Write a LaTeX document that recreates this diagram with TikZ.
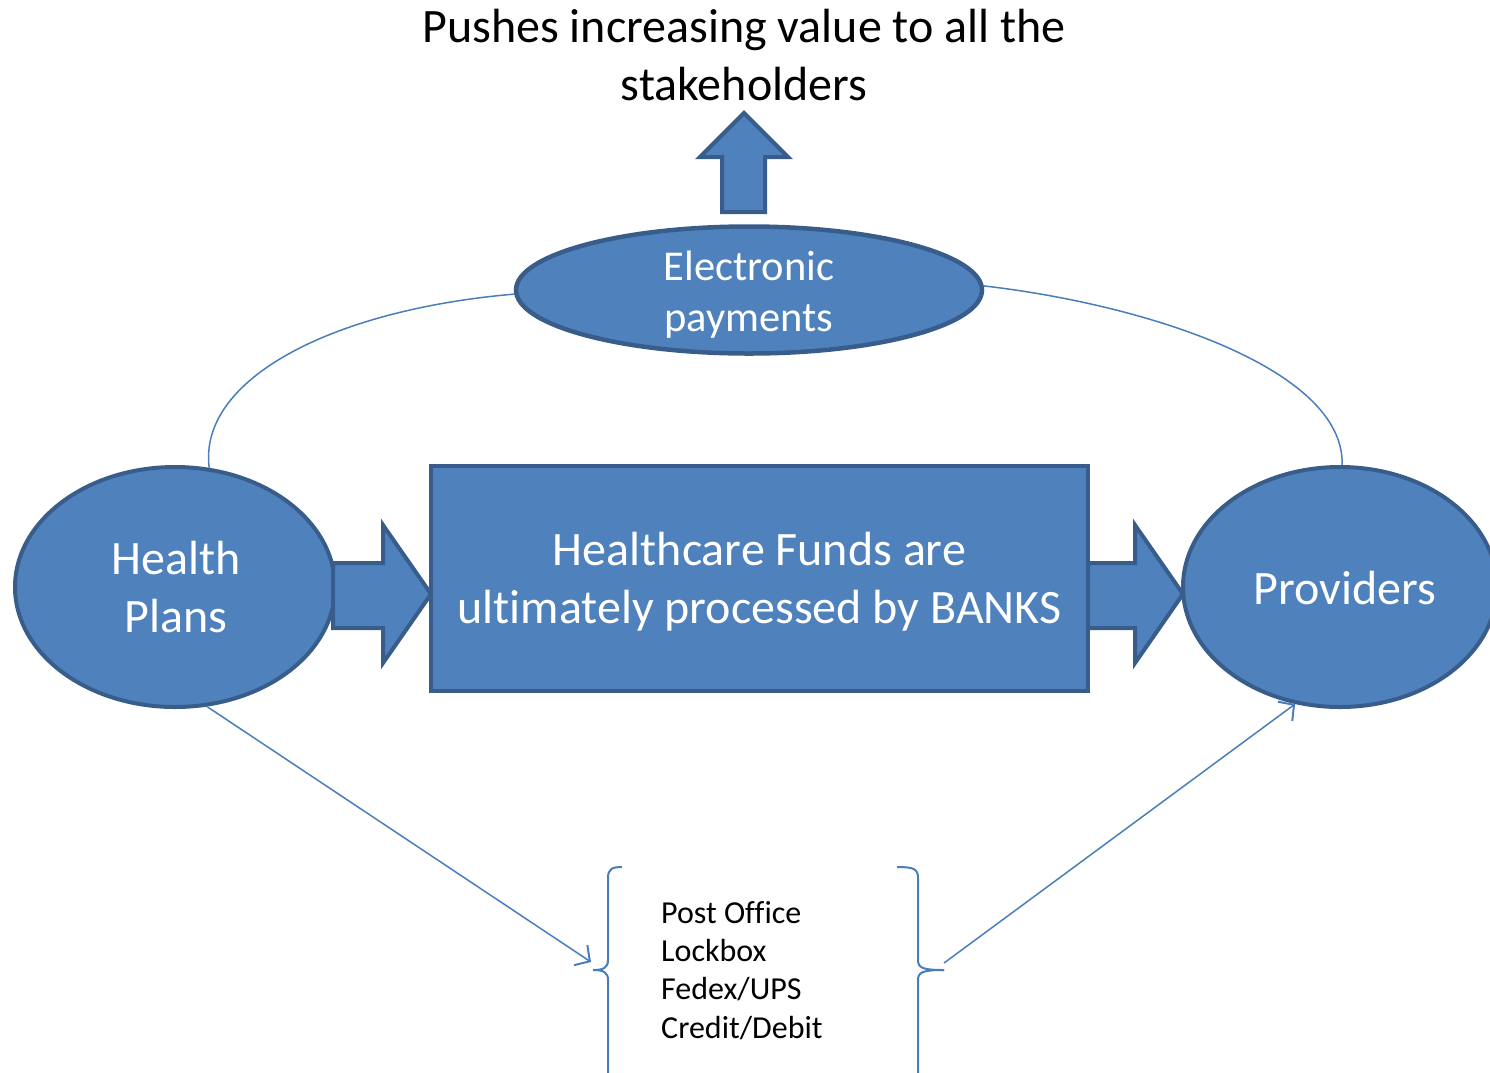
\documentclass[tikz,border=0pt]{standalone}
\usepackage{fontspec}
\setmainfont{Carlito}[Ligatures=NoCommon]
\usetikzlibrary{shapes.geometric,arrows.meta}
\definecolor{fillb}{HTML}{4F81BD}
\definecolor{edgeb}{HTML}{385D8A}
\definecolor{lineb}{HTML}{4A7EBB}
\tikzset{
  blob/.style={ellipse, draw=edgeb, line width=4pt, fill=fillb, text=white, align=center, inner sep=0pt},
  bigtxt/.style={font=\fontsize{48}{58}\selectfont},
  midtxt/.style={font=\fontsize{42.5}{51}\selectfont},
  blockarrow/.style={draw=edgeb, line width=4pt, fill=fillb, line join=miter},
  thin/.style={draw=lineb, line width=1.5pt},
  thinarrow/.style={thin, -{Straight Barb[length=11pt,width=24pt,line width=2pt]}},
  brace/.style={draw=lineb, line width=2pt},
}
\begin{document}
\begin{tikzpicture}[x=1pt,y=-1pt]
\useasboundingbox (0,0) rectangle (1490,1072);
\clip (0,0) rectangle (1490,1072);
% title
\node[bigtxt, align=center, text=black] (title) at (744,55) {Pushes increasing value to all the\\stakeholders};
% up arrow
\path[blockarrow] (722,212) -- (765,212) -- (765,157) -- (788,157) -- (744,113) -- (700,157) -- (722,157) -- cycle;
% nodes
\node[blob, minimum width=466pt, minimum height=127pt, line width=4.5pt] (ep) at (749,290) {};
\node[midtxt, text=white, align=center, inner sep=0pt] (eptext) at ([yshift=-5pt]ep.center) {Electronic\\payments};
\node[blob, bigtxt, minimum width=320pt, minimum height=240pt] (hp) at (175,587) {};
\node[bigtxt, text=white, align=center, inner sep=0pt] (hptext) at ([xshift=1pt]hp.center) {Health\\Plans};
\node[blob, bigtxt, minimum width=314pt, minimum height=240pt] (pr) at (1340,587) {};
\node[bigtxt, text=white, inner sep=0pt] (prtext) at ([xshift=5pt,yshift=-1pt]pr.center) {Providers};
% block arrows
\path[blockarrow] (333,563) -- (383,563) -- (383,525) -- (431,594) -- (383,663) -- (383,628) -- (333,628) -- cycle;
\path[blockarrow] (1088,563) -- (1135,563) -- (1135,525) -- (1183,594) -- (1135,663) -- (1135,628) -- (1088,628) -- cycle;
\node[draw=edgeb, line width=4pt, fill=fillb, text=white, align=center, minimum width=657pt, minimum height=225pt, inner sep=0pt] (banks) at (759.5,578.5) {};
\node[bigtxt, text=white, align=center, inner sep=0pt] (bankstext) at ([yshift=-3pt]banks.center) {Healthcare Funds are\\ultimately processed by BANKS};
% curves
\draw[thin] (hp.74) .. controls (198,380) and (330,310) .. (ep.181);
\draw[thin] (ep.1) .. controls (1150,305) and (1345,370) .. (pr.89);
% list
\node[text=black, align=left, anchor=north west, font=\fontsize{32}{38.3}\selectfont, inner sep=0pt] (list) at (661,901) {Post Office\\Lockbox\\Fedex/UPS\\Credit/Debit};
% braces
\draw[brace] (622,867) .. controls (612,867) and (608,869) .. (608,878) -- (608,960) .. controls (608,968) and (603,970) .. (593,970);
\draw[brace] (593,970) .. controls (603,970) and (608,972) .. (608,980) -- (608,1080);
\draw[brace] (897,867) .. controls (914,867) and (918,869) .. (918,878) -- (918,960) .. controls (918,968) and (923,970) .. (944,970);
\draw[brace] (944,970) .. controls (923,970) and (918,972) .. (918,980) -- (918,1080);
\coordinate (lefttip) at (591,962);
\coordinate (rightstart) at (944,963);
\draw[thinarrow] (hp.-75) -- (lefttip);
\draw[thinarrow] (rightstart) -- (pr.-111);
\end{tikzpicture}
\end{document}
